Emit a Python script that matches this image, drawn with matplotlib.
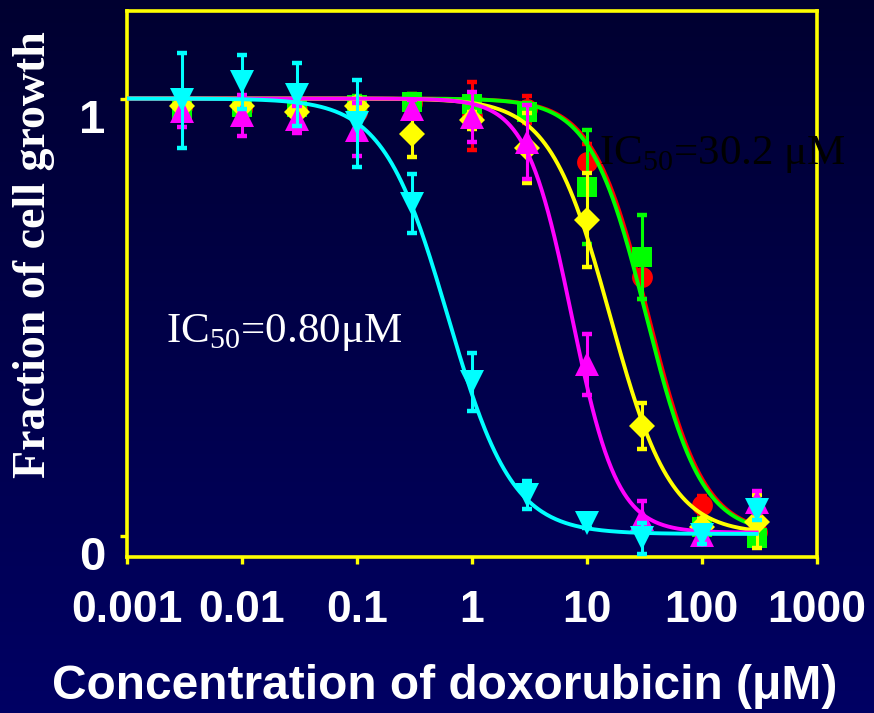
import numpy as np
import matplotlib
matplotlib.use("Agg")
import matplotlib.pyplot as plt

plt.rcParams['mathtext.fontset'] = 'custom'
plt.rcParams['mathtext.rm'] = 'Liberation Serif'

# ---------------- data ----------------
conc = [0.003, 0.01, 0.03, 0.1, 0.3, 1, 3, 10, 30, 100, 300]

red_y = [0.98, 0.975, 0.975, 0.97, 0.99, 0.96, 0.975, 0.855, 0.592, 0.071, 0.01]
red_err = [0.02, 0.02, 0.02, 0.02, 0.02, 0.078, 0.03, 0.04, 0.05, 0.02, 0.02]

green_y = [0.975, 0.98, 0.98, 0.985, 0.991, 0.988, 0.97, 0.798, 0.638, 0.021, -0.005]
green_err = [0.02, 0.02, 0.02, 0.02, 0.02, 0.02, 0.02, 0.13, 0.095, 0.02, 0.02]

yellow_y = [0.982, 0.982, 0.969, 0.982, 0.918, 0.95, 0.886, 0.722, 0.251, 0.02, 0.033]
yellow_err = [0.02, 0.02, 0.02, 0.02, 0.051, 0.02, 0.08, 0.108, 0.053, 0.02, 0.06]

magenta_y = [0.972, 0.962, 0.953, 0.929, 0.976, 0.958, 0.901, 0.393, 0.039, 0.002, 0.078]
magenta_err = [0.038, 0.047, 0.031, 0.06, 0.02, 0.057, 0.084, 0.07, 0.041, 0.02, 0.025]

cyan_y = [0.996, 1.038, 1.009, 0.943, 0.76, 0.353, 0.095, 0.029, -0.005, 0.002, 0.059]
cyan_err = [0.108, 0.062, 0.072, 0.099, 0.068, 0.066, 0.032, 0.01, 0.036, 0.02, 0.023]

# fitted dose-response curve parameters (top, bottom, IC50, Hill slope)
fit_top = [1.0, 1.0, 1.0, 1.0, 1.0]
fit_bottom = [0.005, 0.005, 0.005, 0.008, 0.005]
fit_ic50 = [34.5, 33.0, 16.0, 7.4, 0.62]
fit_hill = [1.8, 1.8, 1.65, 2.2, 1.55]

series_y = [red_y, green_y, yellow_y, magenta_y, cyan_y]
series_err = [red_err, green_err, yellow_err, magenta_err, cyan_err]
colors = ['#ff0000', '#00ff00', '#ffff00', '#ff00ff', '#00ffff']
markers = ['o', 's', 'D', '^', 'v']
msizes = [15, 14, 13, 17, 17]

xtick_vals = [0.001, 0.01, 0.1, 1, 10, 100, 1000]
xtick_labels = ['0.001', '0.01', '0.1', '1', '10', '100', '1000']
ytick_vals = [0, 1]
ytick_labels = ['0', '1']

# ---------------- figure ----------------
W, H = 874, 713
fig = plt.figure(figsize=(W / 100, H / 100), dpi=100)

bg = fig.add_axes([0, 0, 1, 1], zorder=-10)
grad = np.linspace(0, 1, 256).reshape(-1, 1)
c_top = np.array([0.0, 0.0, 0.19])
c_bot = np.array([0.0, 0.0, 0.39])
img = c_top[None, None, :] * (1 - grad[:, :, None]) + c_bot[None, None, :] * grad[:, :, None]
bg.imshow(img, aspect='auto', extent=[0, 1, 0, 1], origin='upper')
bg.axis('off')

ax = fig.add_axes([126.7 / W, 1 - 556.7 / H, (816.7 - 126.7) / W, (556.7 - 11) / H])
ax.patch.set_alpha(0)
ax.set_xscale('log')
ax.set_xlim(0.001, 1000)
ax.set_ylim(-0.047, 1.2)

xc = np.logspace(-3, np.log10(300), 400)
for i in range(5):
    ax.errorbar(conc, series_y[i], yerr=series_err[i], fmt='none', ecolor=colors[i],
                elinewidth=2.2, capsize=3.8, capthick=3.2, zorder=2 + i)
    ax.plot(conc, series_y[i], linestyle='none', marker=markers[i], ms=msizes[i],
            color=colors[i], markeredgewidth=0, zorder=2 + i)
    yc = fit_bottom[i] + (fit_top[i] - fit_bottom[i]) / (1 + (xc / fit_ic50[i]) ** fit_hill[i])
    ax.plot(xc, yc, color=colors[i], lw=2.8, zorder=2.5 + i)

for s in ax.spines.values():
    s.set_color('#ffff00')
    s.set_linewidth(2.6)

ax.set_xticks(xtick_vals)
ax.set_xticklabels(xtick_labels)
ax.minorticks_off()
ax.set_yticks(ytick_vals)
ax.set_yticklabels(ytick_labels)
ax.tick_params(axis='both', which='major', direction='out', color='#ffff00',
               length=5, width=2.4, labelcolor='white')
ax.tick_params(axis='x', pad=19)
ax.tick_params(axis='y', pad=10)
for lab in ax.get_xticklabels():
    lab.set_fontfamily('Liberation Sans')
    lab.set_fontweight('bold')
    lab.set_fontsize(32)
for lab in ax.get_yticklabels():
    lab.set_fontfamily('Liberation Sans')
    lab.set_fontweight('bold')
    lab.set_fontsize(34)
    lab.set_verticalalignment('top')

fig.text(445 / W, 1 - 699 / H, 'Concentration of doxorubicin (\u03bcM)', color='white',
         fontfamily='Liberation Sans', fontweight='bold', fontsize=34.5, ha='center', va='baseline')
fig.text(34 / W, 1 - 255 / H, 'Fraction of cell growth', color='white', rotation=90,
         fontfamily='Liberation Serif', fontweight='bold', fontsize=33, ha='center', va='center')

fig.text(166 / W, 1 - 341.7 / H, 'IC$_{50}$=0.80\u03bcM', color='white',
         fontfamily='Liberation Serif', fontsize=31, ha='left', va='baseline')
fig.text(599 / W, 1 - 164 / H, 'IC$_{50}$=30.2 \u03bcM', color='black',
         fontfamily='Liberation Serif', fontsize=31, ha='left', va='baseline')

fig.savefig('out.png', dpi=100)
